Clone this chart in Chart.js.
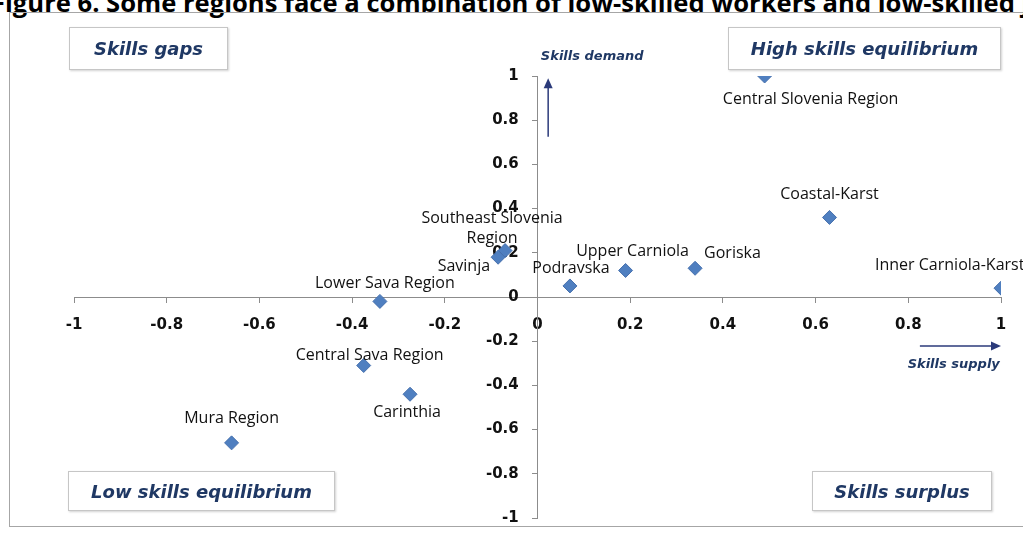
<!DOCTYPE html>
<html>
<head>
<meta charset="utf-8">
<script src="https://cdn.jsdelivr.net/npm/chart.js@4/dist/chart.umd.min.js"></script>
<style>
  html, body { margin: 0; padding: 0; background: #fff; }
  #wrap { position: relative; width: 1023px; height: 535px; overflow: hidden; }
  #title { position: absolute; left: -9px; top: -15px; white-space: nowrap; line-height: 25px;
           font: bold 25.6px "Open Sans", sans-serif; color: #000; }
  #frame { position: absolute; left: 9px; top: 12px; width: 1100px; height: 513px;
           border: 1px solid #a6a6a6; }
  canvas { position: absolute; left: 0; top: 0; }
  .qbox { position: absolute; border: 1px solid #c6c6c6; background: #fff;
          box-shadow: 1px 1px 2px rgba(0,0,0,0.18);
          font: italic bold 18px "DejaVu Sans", sans-serif; color: #1f3864;
          display: flex; align-items: center; justify-content: center; }
</style>
</head>
<body>
<div id="wrap">
  <div id="title">Figure 6. Some regions face a combination of low-skilled workers and low-skilled jobs</div>
  <div id="frame"></div>
  <canvas id="quadChart" width="1023" height="535"></canvas>
  <div class="qbox" style="left:69px;top:27px;width:157px;height:41px;">Skills gaps</div>
  <div class="qbox" style="left:728px;top:27px;width:271px;height:41px;">High skills equilibrium</div>
  <div class="qbox" style="left:68px;top:471px;width:265px;height:38px;">Low skills equilibrium</div>
  <div class="qbox" style="left:812px;top:471px;width:178px;height:38px;">Skills surplus</div>
</div>
<script>
// Regions (labels) and their position on the supply / demand plane
const regions = [
    'Central Slovenia Region', 'Coastal-Karst', 'Inner Carniola-Karst', 'Goriska',
    'Upper Carniola', 'Podravska', ['Southeast Slovenia', 'Region'], 'Savinja',
    'Lower Sava Region', 'Central Sava Region', 'Carinthia', 'Mura Region'
];
const skillsSupply = [0.49, 0.63, 1.0, 0.34, 0.19, 0.07, -0.07, -0.085, -0.34, -0.375, -0.275, -0.66];
const skillsDemand = [1.0, 0.36, 0.04, 0.13, 0.12, 0.05, 0.21, 0.18, -0.02, -0.31, -0.44, -0.66];
const axisTicks = [-1, -0.8, -0.6, -0.4, -0.2, 0, 0.2, 0.4, 0.6, 0.8, 1];

// where each label sits relative to its marker: [dx, dy, align]
const labelPlace = [
    [46, 23, 'center'], [0, -23, 'center'], [-126, -23, 'left'], [9, -15, 'left'],
    [7, -19, 'center'], [1, -18, 'center'], [-13, -32, 'center'], [-8, 9, 'right'],
    [5, -18, 'center'], [6, -10, 'center'], [-3, 18, 'center'], [0, -24, 'center']
];

const NAVY = '#2b3a7a';

const labelPlugin = {
    id: 'regionLabels',
    afterDatasetsDraw(chart) {
        const ctx = chart.ctx;
        const pts = chart.getDatasetMeta(0).data;
        ctx.save();
        ctx.font = '16px "Open Sans", sans-serif';
        ctx.fillStyle = '#111';
        ctx.textBaseline = 'middle';
        pts.forEach((p, i) => {
            const [dx, dy, align] = labelPlace[i];
            const lines = [].concat(regions[i]);
            ctx.textAlign = align;
            lines.forEach((t, j) => ctx.fillText(t, p.x + dx, p.y + dy + j * 20));
        });
        ctx.restore();
    }
};

function arrow(ctx, x1, y1, x2, y2) {
    const a = Math.atan2(y2 - y1, x2 - x1);
    ctx.beginPath();
    ctx.moveTo(x1, y1);
    ctx.lineTo(x2 - 8 * Math.cos(a), y2 - 8 * Math.sin(a));
    ctx.stroke();
    ctx.beginPath();
    ctx.moveTo(x2, y2);
    ctx.lineTo(x2 - 10 * Math.cos(a) + 4.5 * Math.sin(a), y2 - 10 * Math.sin(a) - 4.5 * Math.cos(a));
    ctx.lineTo(x2 - 10 * Math.cos(a) - 4.5 * Math.sin(a), y2 - 10 * Math.sin(a) + 4.5 * Math.cos(a));
    ctx.closePath();
    ctx.fill();
}

const axisNotes = {
    id: 'axisNotes',
    afterDraw(chart) {
        const {ctx, scales: {x, y}} = chart;
        ctx.save();
        ctx.strokeStyle = NAVY;
        ctx.fillStyle = NAVY;
        ctx.lineWidth = 1.5;
        arrow(ctx, x.getPixelForValue(0.023), y.getPixelForValue(0.725), x.getPixelForValue(0.023), y.getPixelForValue(0.99));
        arrow(ctx, x.getPixelForValue(0.825), y.getPixelForValue(-0.222), x.getPixelForValue(1.0), y.getPixelForValue(-0.222));
        ctx.font = 'italic bold 13px "DejaVu Sans", sans-serif';
        ctx.fillStyle = '#1f3864';
        ctx.textAlign = 'center';
        ctx.textBaseline = 'middle';
        ctx.fillText('Skills demand', x.getPixelForValue(0.118), y.getPixelForValue(1.086));
        ctx.fillText('Skills supply', x.getPixelForValue(0.898), y.getPixelForValue(-0.308));
        ctx.restore();
    }
};

const fmt = v => String(+v.toFixed(1));

const axisStyle = {
    min: -1, max: 1,
    afterBuildTicks: s => { s.ticks = axisTicks.map(v => ({value: v})); },
    grid: { drawOnChartArea: false, drawTicks: true, tickLength: 5, color: '#8c8c8c' },
    border: { color: '#8c8c8c', width: 1 },
    ticks: { color: '#111', font: { family: 'DejaVu Sans', weight: 'bold', size: 15 } }
};

new Chart(document.getElementById('quadChart'), {
    type: 'scatter',
    data: {
        datasets: [{
            label: 'Regions',
            data: regions.map((r, i) => ({x: skillsSupply[i], y: skillsDemand[i]})),
            pointStyle: 'rectRot',
            radius: 7,
            hoverRadius: 7,
            backgroundColor: '#4f7fc0',
            borderColor: '#4670ad',
            borderWidth: 1
        }]
    },
    options: {
        responsive: false,
        animation: false,
        layout: { padding: { left: 74, right: 22, top: 76, bottom: 17 } },
        plugins: { legend: { display: false }, tooltip: { enabled: false } },
        scales: {
            x: Object.assign({}, axisStyle, {
                position: { y: 0 },
                afterFit: s => { s.height = 0; },
                ticks: Object.assign({}, axisStyle.ticks, { padding: 14, maxRotation: 0, callback: fmt })
            }),
            y: Object.assign({}, axisStyle, {
                position: { x: 0 },
                afterFit: s => { s.width = 0; },
                // labels sit right-aligned on the axis line; trailing space pushes them left
                ticks: Object.assign({}, axisStyle.ticks, { callback: v => fmt(v) + '\u2003\u2005' })
            })
        }
    },
    plugins: [labelPlugin, axisNotes]
});
</script>
</body>
</html>
